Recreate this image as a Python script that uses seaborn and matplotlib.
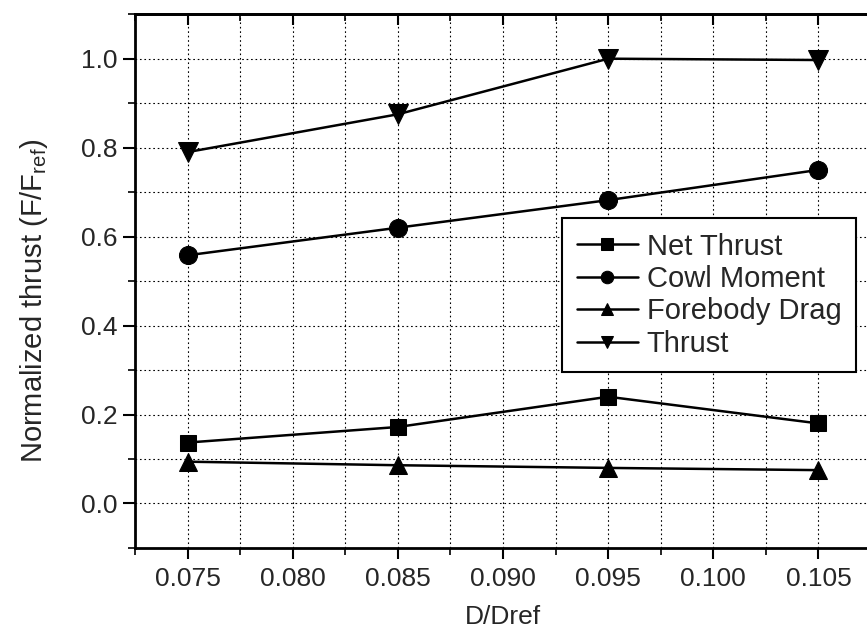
import numpy as np
import pandas as pd
import matplotlib
matplotlib.use("Agg")
import matplotlib.pyplot as plt
import seaborn as sns

# Data
d_ratio = [0.075, 0.085, 0.095, 0.105]
net_thrust = [0.137, 0.172, 0.240, 0.180]
cowl_moment = [0.558, 0.620, 0.682, 0.750]
forebody_drag = [0.094, 0.086, 0.080, 0.075]
thrust = [0.790, 0.875, 1.000, 0.997]

series_names = ["Net Thrust", "Cowl Moment", "Forebody Drag", "Thrust"]
series_values = [net_thrust, cowl_moment, forebody_drag, thrust]
series_markers = ["s", "o", "^", "v"]
series_msize = [11, 13, 13, 14]

x_ticks = [0.075, 0.080, 0.085, 0.090, 0.095, 0.100, 0.105]
x_minor = [0.0725, 0.0775, 0.0825, 0.0875, 0.0925, 0.0975, 0.1025, 0.1075]
y_ticks = [0.0, 0.2, 0.4, 0.6, 0.8, 1.0]
y_minor = [-0.1, 0.1, 0.3, 0.5, 0.7, 0.9, 1.1]

# Long table for seaborn
frames = []
for name, vals in zip(series_names, series_values):
    frames.append(pd.DataFrame({"D/Dref": d_ratio, "value": vals, "series": name}))
df = pd.concat(frames, ignore_index=True)

sns.set_style("white")
plt.rcParams['font.family'] = ['Liberation Sans', 'DejaVu Sans']
plt.rcParams['mathtext.fontset'] = 'custom'
plt.rcParams['mathtext.rm'] = 'Liberation Sans'
plt.rcParams['mathtext.it'] = 'Liberation Sans:italic'

fig = plt.figure(figsize=(8.67, 6.4), dpi=100)
ax = fig.add_axes([0.1557, 0.1438, 0.849, 0.834])

for name, mk, ms in zip(series_names, series_markers, series_msize):
    sns.lineplot(data=df[df["series"] == name], x="D/Dref", y="value", ax=ax,
                 color="black", linewidth=1.8, marker=mk, markersize=ms,
                 markeredgecolor="black", markerfacecolor="black", label=name)

ax.set_xlim(0.0725, 0.1075)
ax.set_ylim(-0.1, 1.1)

ax.set_xticks(x_ticks)
ax.set_xticklabels([f"{t:.3f}" for t in x_ticks])
ax.set_xticks(x_minor, minor=True)
ax.set_yticks(y_ticks)
ax.set_yticklabels([f"{t:.1f}" for t in y_ticks])
ax.set_yticks(y_minor, minor=True)

ax.tick_params(axis="x", which="both", bottom=True)
ax.tick_params(axis="y", which="both", left=True)
ax.tick_params(axis="x", which="major", direction="out", length=8, width=1.5,
               labelsize=19, pad=6, color="black")
ax.tick_params(axis="y", which="major", direction="out", length=8.5, width=1.5,
               labelsize=19, pad=4, color="black")
ax.tick_params(axis="both", which="minor", direction="out", length=5, width=1.2, color="black")

# top ticks point inward
top = ax.secondary_xaxis("top")
top.set_xticks(x_ticks)
top.set_xticks(x_minor, minor=True)
top.tick_params(which="both", top=True, labeltop=False)
top.tick_params(which="major", direction="in", length=8, width=1.5, color="black")
top.tick_params(which="minor", direction="in", length=5, width=1.2, color="black")
top.spines["top"].set_linewidth(2.0)
top.spines["top"].set_color("black")

ax.grid(True, which="both", color="black", linestyle=(0, (1.5, 2.5)), linewidth=0.8)
ax.set_axisbelow(True)

for s in ax.spines.values():
    s.set_color("black")
    s.set_linewidth(2.0)

ax.set_xlabel("D/Dref", fontsize=19, labelpad=10)
ax.set_ylabel(r"Normalized thrust (F/F$_{\mathrm{ref}}$)", fontsize=21)
ax.yaxis.set_label_coords(-0.115, 0.4625)

leg = ax.legend(loc="upper left", bbox_to_anchor=(0.58, 0.618), fontsize=21,
                frameon=True, fancybox=False, framealpha=1, edgecolor="black",
                handlelength=2.1, handletextpad=0.3, labelspacing=0.15,
                borderpad=0.5, borderaxespad=0)
leg.get_frame().set_linewidth(1.5)
for h in leg.legend_handles:
    h.set_markersize(9)

fig.savefig("out.png", dpi=100)
